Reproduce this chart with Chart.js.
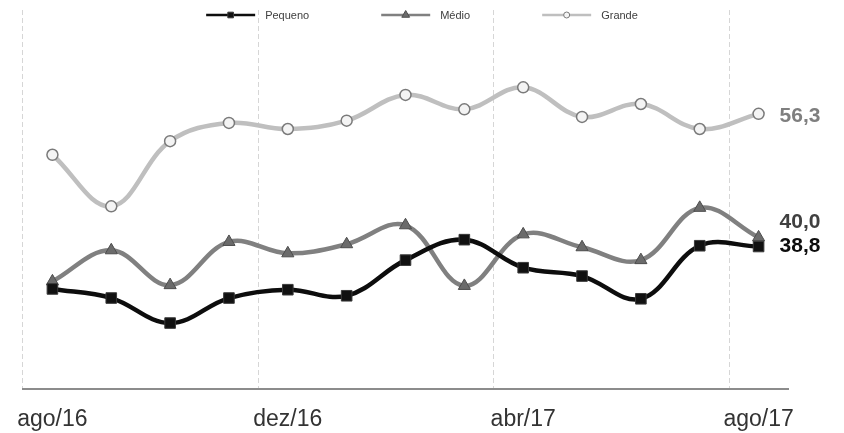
<!DOCTYPE html>
<html lang="pt">
<head>
<meta charset="utf-8">
<title>Pequeno, Médio e Grande</title>
<script src="https://cdn.jsdelivr.net/npm/chart.js@4.4.1/dist/chart.umd.min.js"></script>
<style>
  html, body { margin: 0; padding: 0; background: #ffffff; }
  canvas { display: block; }
</style>
</head>
<body>
<canvas id="grafico" width="844" height="433"></canvas>
<script>
// Meses (ago/16 a ago/17)
const meses = ['ago/16', 'set/16', 'out/16', 'nov/16', 'dez/16', 'jan/17', 'fev/17',
               'mar/17', 'abr/17', 'mai/17', 'jun/17', 'jul/17', 'ago/17'];

// Séries por porte
const pequeno = [33.2, 32.0, 28.7, 32.0, 33.1, 32.3, 37.0, 39.7, 36.0, 34.9, 31.9, 38.9, 38.8];
const medio   = [34.2, 38.3, 33.7, 39.4, 37.9, 39.1, 41.6, 33.6, 40.4, 38.7, 37.0, 43.9, 40.0];
const grande  = [50.9, 44.1, 52.7, 55.1, 54.3, 55.4, 58.8, 56.9, 59.8, 55.9, 57.6, 54.3, 56.3];

// Faixa do eixo de valores (oculto)
const eixoMin = 20;
const eixoMax = 70;

const FONTE = '"Liberation Sans", Arial, sans-serif';

// Desenha um marcador no estilo da série
function marcador(ctx, estilo, x, y, r, fill, stroke, lw) {
  ctx.save();
  ctx.fillStyle = fill;
  ctx.strokeStyle = stroke;
  ctx.lineWidth = lw;
  ctx.beginPath();
  if (estilo === 'rect') {
    const s = r * Math.SQRT1_2;
    ctx.rect(x - s, y - s, 2 * s, 2 * s);
  } else if (estilo === 'triangle') {
    ctx.moveTo(x, y - r);
    ctx.lineTo(x + r * Math.sin(Math.PI / 3), y + r / 2);
    ctx.lineTo(x - r * Math.sin(Math.PI / 3), y + r / 2);
    ctx.closePath();
  } else {
    ctx.arc(x, y, r, 0, Math.PI * 2);
  }
  ctx.fill();
  if (lw > 0) ctx.stroke();
  ctx.restore();
}

// Legenda no topo, por cima da área do gráfico
const legendaTopo = {
  id: 'legendaTopo',
  afterDraw(chart) {
    const ctx = chart.ctx;
    const sets = chart.data.datasets;
    const amostra = 49, vao = 10, espaco = 72, y = 15;
    ctx.save();
    ctx.font = '11px ' + FONTE;
    const larguras = sets.map(d => amostra + vao + ctx.measureText(d.label).width);
    const total = larguras.reduce((a, b) => a + b, 0) + espaco * (sets.length - 1);
    let x = (chart.width - total) / 2;
    sets.forEach((d, i) => {
      ctx.strokeStyle = d.borderColor;
      ctx.lineWidth = 2.5;
      ctx.beginPath();
      ctx.moveTo(x, y);
      ctx.lineTo(x + amostra, y);
      ctx.stroke();
      marcador(ctx, d.pointStyle, x + amostra / 2, y, d.legendRadius,
               d.pointBackgroundColor, d.pointBorderColor, 1);
      ctx.fillStyle = '#404040';
      ctx.textAlign = 'left';
      ctx.textBaseline = 'middle';
      ctx.fillText(d.label, x + amostra + vao, y + 0.5);
      x += larguras[i] + espaco;
    });
    ctx.restore();
  }
};

// Valor do último mês à direita de cada linha
const rotuloFinal = {
  id: 'rotuloFinal',
  afterDatasetsDraw(chart) {
    const ctx = chart.ctx;
    ctx.save();
    ctx.font = 'bold 21px ' + FONTE;
    ctx.textAlign = 'left';
    ctx.textBaseline = 'middle';
    chart.data.datasets.forEach((d, i) => {
      const meta = chart.getDatasetMeta(i);
      const n = meta.data.length - 1;
      const pt = meta.data[n];
      const valor = d.data[n];
      ctx.fillStyle = d.labelColor;
      ctx.fillText(valor.toFixed(1).replace('.', ','), pt.x + 21, pt.y + d.labelShift);
    });
    ctx.restore();
  }
};

new Chart(document.getElementById('grafico'), {
  type: 'line',
  data: {
    labels: meses,
    datasets: [
      {
        label: 'Pequeno',
        data: pequeno,
        borderColor: '#0d0d0d',
        borderWidth: 4.5,
        pointStyle: 'rect',
        pointRadius: 7.5,
        pointBackgroundColor: '#111111',
        pointBorderColor: '#3a3a3a',
        pointBorderWidth: 1,
        legendRadius: 4,
        labelColor: '#0d0d0d',
        labelShift: 0,
        tension: 0.38,
        order: 1
      },
      {
        label: 'Médio',
        data: medio,
        borderColor: '#808080',
        borderWidth: 4.5,
        pointStyle: 'triangle',
        pointRadius: 7,
        pointBackgroundColor: '#6b6b6b',
        pointBorderColor: '#4d4d4d',
        pointBorderWidth: 1,
        legendRadius: 4.5,
        labelColor: '#404040',
        labelShift: -15,
        tension: 0.38,
        order: 2
      },
      {
        label: 'Grande',
        data: grande,
        borderColor: '#bfbfbf',
        borderWidth: 4.5,
        pointStyle: 'circle',
        pointRadius: 5.5,
        pointBackgroundColor: '#f4f4f4',
        pointBorderColor: '#7a7a7a',
        pointBorderWidth: 1.5,
        legendRadius: 3,
        labelColor: '#7f7f7f',
        labelShift: 2,
        tension: 0.38,
        order: 3
      }
    ]
  },
  options: {
    responsive: false,
    animation: false,
    devicePixelRatio: 1,
    layout: { padding: { left: 23, right: 56, top: 10, bottom: -17 } },
    plugins: {
      legend: { display: false },
      tooltip: { enabled: false }
    },
    scales: {
      x: {
        type: 'category',
        offset: true,
        // os rótulos das pontas cabem na margem; não empurram a área do gráfico
        afterFit: (escala) => { escala.paddingLeft = 0; escala.paddingRight = 0; },
        grid: {
          offset: true,
          drawTicks: false,
          lineWidth: 1,
          color: (c) => (c.index % 4 === 0 ? '#d6d6d6' : 'rgba(0,0,0,0)')
        },
        border: {
          display: true,
          color: '#8c8c8c',
          width: 2,
          dash: (c) => (c.type === 'tick' ? [5, 3] : [])
        },
        ticks: {
          autoSkip: false,
          maxRotation: 0,
          padding: 19,
          color: '#333333',
          font: { family: FONTE, size: 23, lineHeight: 1 },
          callback: (v, i) => (i % 4 === 0 ? meses[i] : '')
        }
      },
      y: {
        display: false,
        min: eixoMin,
        max: eixoMax
      }
    }
  },
  plugins: [legendaTopo, rotuloFinal]
});
</script>
</body>
</html>
